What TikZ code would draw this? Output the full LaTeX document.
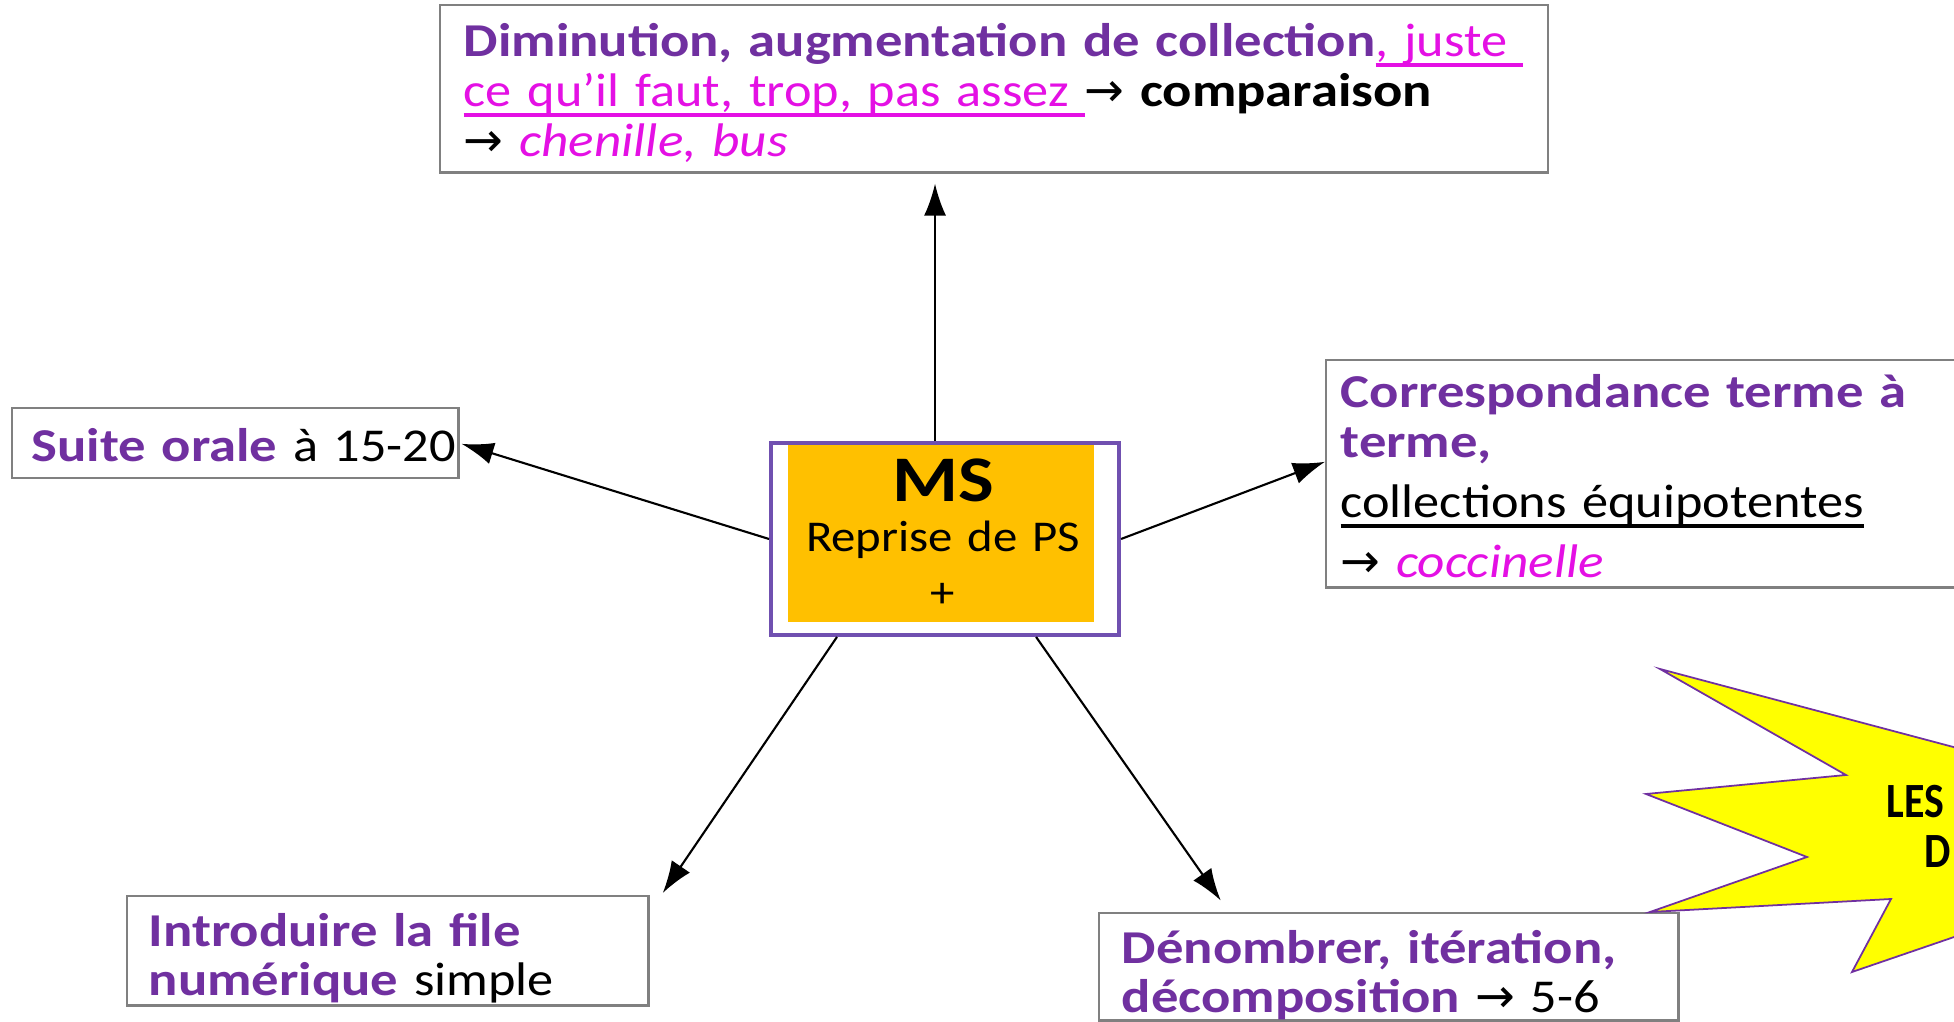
\documentclass[tikz,border=0pt]{standalone}
\usepackage{fontspec}
\setmainfont{Carlito}[UprightFeatures={FakeStretch=1.11},BoldFeatures={FakeStretch=1.16},ItalicFeatures={FakeStretch=1.13}]
\newfontfamily\arrowfont{DejaVu Sans}
\newfontfamily\starfont{Carlito}[FakeStretch=0.85]
\usepackage{tikz}
\usetikzlibrary{positioning}
\usetikzlibrary{arrows.meta}
\definecolor{mauve}{RGB}{112,48,160}
\definecolor{rose}{RGB}{228,16,228}
\definecolor{ocre}{RGB}{255,192,0}
\definecolor{cadre}{RGB}{128,128,128}
\definecolor{bordms}{RGB}{112,80,176}
\definecolor{jaune}{RGB}{255,255,0}
\newcommand{\fl}{{\arrowfont\fontsize{13.5}{13.5}\selectfont →}}
\newsavebox{\soulbox}
\newcommand{\souligne}[1]{\leavevmode\sbox{\soulbox}{#1}\rlap{\rule[-0.1cm]{\wd\soulbox}{1.1pt}}\usebox{\soulbox}}

\begin{document}
\begin{tikzpicture}[
    x=0.01cm, y=-0.01cm,
    mybox/.style={draw=cadre,line width=0.7pt,rectangle,anchor=north west,inner sep=0pt},
    mytext/.style={anchor=base west,inner sep=0pt,text width=15cm,align=left,font={\fontsize{13.4}{14.2}\selectfont}},
    myarrow/.style={-{Latex[length=0.32cm,width=0.22cm]},line width=0.6pt}
    ]

    \useasboundingbox (0,0) rectangle (1954,1022);

    \node[mybox, minimum width=11.07cm, minimum height=1.67cm] (1) at (439,4) {};
    \node[mybox, minimum width=4.46cm, minimum height=0.70cm] (2) at (11,407) {};
    \fill[ocre] (788,445) rectangle (1094,622);
    \node[mybox, draw=bordms, line width=1.1pt, minimum width=3.48cm, minimum height=1.92cm] (3) at (769,441) {};
    \node[mybox, minimum width=5.21cm, minimum height=1.09cm] (5) at (126,895) {};
    \node[mybox, minimum width=5.79cm, minimum height=1.07cm] (6) at (1098,912) {};

    \begin{scope}
    \clip (0,0) rectangle (1954,1022);
    \node[mybox, minimum width=6.85cm, minimum height=2.27cm] (4) at (1325,359) {};
    \filldraw[fill=jaune, draw=mauve, line width=0.5pt] (1660,669) -- (2100,786) -- (2100,887)
      -- (1852,972) -- (1891,899) -- (1650,912) -- (1807,857) -- (1646,794) -- (1846,775) -- cycle;
    \node[anchor=base west, inner sep=0pt, font={\starfont\fontsize{14}{14}\selectfont\bfseries}] (7) at (1886,818) {LES};
    \node[anchor=base west, inner sep=0pt, font={\starfont\fontsize{14}{14}\selectfont\bfseries}] (8) at (1924,868) {D};
    \end{scope}

    \node[mytext] (t1) at (463,57) {{\color{mauve}\bfseries Diminution, augmentation de collection}{\color{rose}\souligne{, juste }}\\
      {\color{rose}\souligne{ce qu’il faut, trop, pas assez }}\fl{} \textbf{comparaison}\\
      \fl{} {\color{rose}\itshape chenille, bus}};
    \node[mytext] (t2) at (31,462) {{\color{mauve}\bfseries Suite orale} à 15-20};
    \node[mytext, anchor=base, text width=3.2cm, align=center, font={\fontsize{12.5}{14.2}\selectfont}] (t3) at (943,502)
      {{\fontsize{18.5}{14.2}\selectfont\bfseries MS}\\Reprise de PS\\[0.06cm]+};
    \node[mytext] (t4) at (1340,408) {{\color{mauve}\bfseries Correspondance terme à}\\
      {\color{mauve}\bfseries terme,}\\[0.1cm]
      \souligne{collections équipotentes}\\[0.1cm]
      \fl{} {\color{rose}\itshape coccinelle}};
    \node[mytext] (t5) at (148,946) {{\color{mauve}\bfseries Introduire la file}\\
      {\color{mauve}\bfseries numérique} simple};
    \node[mytext] (t6) at (1121,963) {{\color{mauve}\bfseries Dénombrer, itération,}\\
      {\color{mauve}\bfseries décomposition} \fl{} 5-6};

    \path ([xshift=-0.1cm]3.north) edge[myarrow, shorten >=0.1cm] ([xshift=-0.1cm]3.north |- 1.south)
    (3.west) edge[myarrow, shorten >=0.02cm] (2.east)
    (3.east) edge[myarrow] ([yshift=0.12cm]4.west)
    ([xshift=-1.08cm]3.south) edge[myarrow] ([xshift=0.13cm,yshift=0.02cm]5.north east)
    ([xshift=0.91cm]3.south) edge[myarrow, shorten >=0.14cm] ([xshift=-1.6cm]6.north)
    ;

  \end{tikzpicture}
\end{document}
